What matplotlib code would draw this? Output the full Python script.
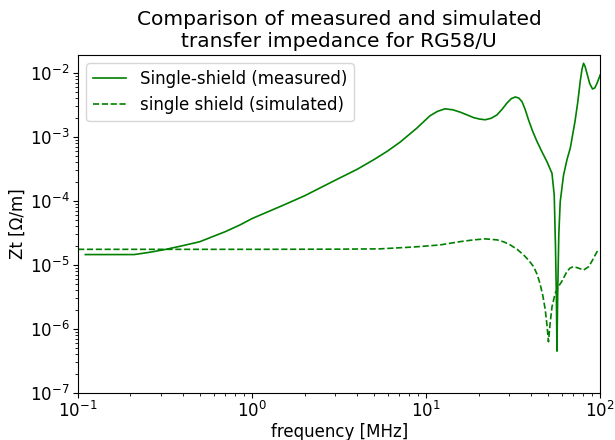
import numpy as np
import matplotlib
matplotlib.use('Agg')
import matplotlib.pyplot as plt

# measured single-shield Zt (MHz, Ohm/m)
f_meas = [0.11, 0.15, 0.21, 0.26, 0.32, 0.4, 0.5, 0.6, 0.7, 0.85, 1.0,
          1.5, 2.0, 3.0, 4.0, 5.0, 6.0, 7.09, 8.84, 10.5, 11.6, 12.8,
          14.2, 15.7, 17.2, 18.7, 20.2, 21.8, 23.6, 25.5, 27.3, 29.1,
          30.8, 32.5, 34.0, 35.5, 37.0, 38.7, 41.0, 43.3, 46.3, 49.4,
          52.8, 54.4, 55.3, 56.0, 56.4, 56.9, 57.8, 58.9, 61.5, 64.4,
          67.3, 71.6, 74.3, 76.7, 78.6, 80.2, 81.9, 83.8, 87.0, 90.3,
          93.0, 95.7, 100.0]
z_meas = [1.45e-5, 1.45e-5, 1.45e-5, 1.58e-5, 1.75e-5, 2.0e-5, 2.3e-5,
          2.8e-5, 3.3e-5, 4.2e-5, 5.3e-5, 8.5e-5, 1.2e-4, 2.1e-4, 3.1e-4,
          4.4e-4, 6.0e-4, 8.3e-4, 1.37e-3, 2.13e-3, 2.5e-3, 2.74e-3,
          2.65e-3, 2.43e-3, 2.2e-3, 2.0e-3, 1.9e-3, 1.85e-3, 1.95e-3,
          2.2e-3, 2.7e-3, 3.37e-3, 3.95e-3, 4.2e-3, 4.05e-3, 3.56e-3,
          2.7e-3, 1.85e-3, 1.2e-3, 8.5e-4, 5.8e-4, 4.1e-4, 2.7e-4,
          1.24e-4, 2.0e-5, 3.0e-6, 4.5e-7, 3.0e-6, 3.0e-5, 9.7e-5,
          2.5e-4, 4.4e-4, 6.7e-4, 1.74e-3, 3.5e-3, 7.3e-3, 1.15e-2,
          1.41e-2, 1.25e-2, 9.9e-3, 6.8e-3, 5.6e-3, 5.8e-3, 6.8e-3,
          9.3e-3]

# simulated single-shield Zt
f_sim = [0.1, 0.3, 1.0, 3.0, 5.4, 8.4, 10.0, 12.0, 15.7, 18.5, 21.8,
         25.5, 28.0, 30.4, 33.3, 36.3, 38.8, 41.4, 43.3, 45.0, 46.8,
         48.3, 49.5, 50.4, 51.5, 52.8, 55.1, 57.5, 60.1, 64.4, 67.0,
         70.2, 75.0, 80.2, 85.9, 90.5, 95.7, 98.5]
z_sim = [1.75e-5, 1.75e-5, 1.75e-5, 1.76e-5, 1.78e-5, 1.9e-5, 1.97e-5,
         2.05e-5, 2.31e-5, 2.45e-5, 2.55e-5, 2.46e-5, 2.28e-5, 2.05e-5,
         1.75e-5, 1.43e-5, 1.18e-5, 9.4e-6, 7.2e-6, 5.2e-6, 3.3e-6,
         2.0e-6, 1.1e-6, 6.3e-7, 1.2e-6, 2.2e-6, 3.6e-6, 4.6e-6, 5.5e-6,
         7.9e-6, 8.9e-6, 9.4e-6, 8.9e-6, 8.3e-6, 9.4e-6, 1.2e-5, 1.6e-5,
         1.7e-5]

fig = plt.figure(figsize=(6.15, 4.4), dpi=100)
ax = fig.add_axes([0.127, 0.107, 0.849, 0.768])

ax.loglog(f_meas, z_meas, 'g-', lw=1.2, label='Single-shield (measured)')
ax.loglog(f_sim, z_sim, 'g--', lw=1.2, label='single shield (simulated)')

ax.set_xlim(0.1, 100)
ax.set_ylim(1e-7, 1.9e-2)
ax.set_xlabel('frequency [MHz]', fontsize=12, labelpad=1)
ax.set_ylabel('Zt [Ω/m]', fontsize=12, labelpad=2)
ax.set_title('Comparison of measured and simulated\ntransfer impedance for RG58/U',
             fontsize=14.5)
ax.tick_params(labelsize=12, pad=2.5)
ax.legend(loc='upper left', fontsize=12)

plt.savefig('out.png', dpi=100)
